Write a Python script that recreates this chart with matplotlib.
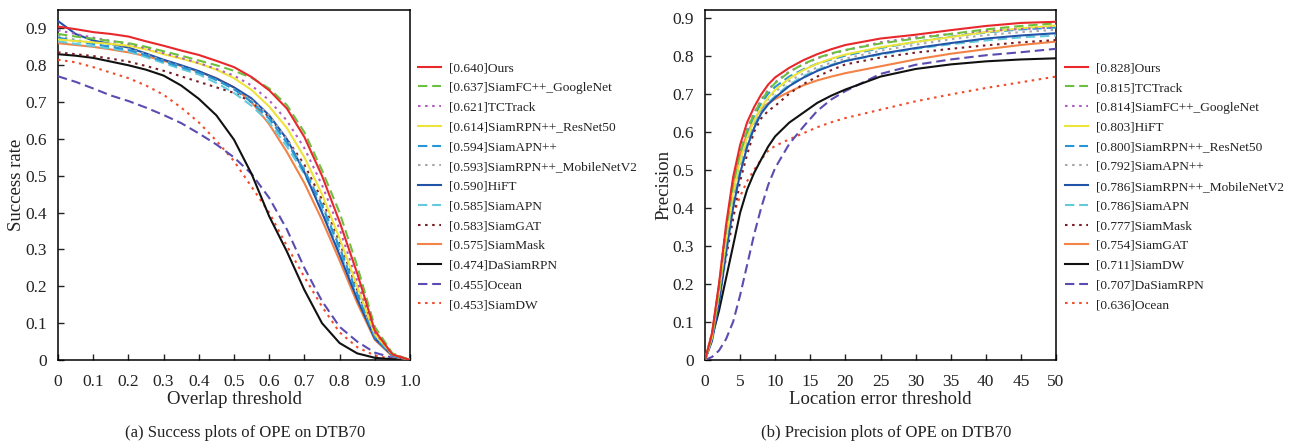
import matplotlib
matplotlib.use("Agg")
import matplotlib.pyplot as plt

plt.rcParams['font.family'] = ['Liberation Serif', 'DejaVu Serif']

# ---------------- Success plot data (overlap threshold) ----------------
overlap = [0.0, 0.05, 0.1, 0.15, 0.2, 0.25, 0.3, 0.35, 0.4, 0.45, 0.5,
           0.55, 0.6, 0.65, 0.7, 0.75, 0.8, 0.85, 0.9, 0.95, 1.0]

succ_names = ['Ours', 'SiamFC++_GoogleNet', 'TCTrack', 'SiamRPN++_ResNet50',
              'SiamAPN++', 'SiamRPN++_MobileNetV2', 'HiFT', 'SiamAPN',
              'SiamGAT', 'SiamMask', 'DaSiamRPN', 'Ocean', 'SiamDW']
succ_auc = ['0.640', '0.637', '0.621', '0.614', '0.594', '0.593', '0.590',
            '0.585', '0.583', '0.575', '0.474', '0.455', '0.453']

succ_ours = [0.905, 0.898, 0.890, 0.885, 0.878, 0.865, 0.853, 0.840, 0.828, 0.812, 0.795,
             0.768, 0.732, 0.683, 0.605, 0.500, 0.375, 0.235, 0.080, 0.015, 0.0]
succ_siamfcpp = [0.885, 0.878, 0.872, 0.866, 0.860, 0.850, 0.838, 0.826, 0.813, 0.800, 0.785,
                 0.766, 0.737, 0.692, 0.618, 0.515, 0.400, 0.255, 0.090, 0.018, 0.0]
succ_tctrack = [0.895, 0.885, 0.875, 0.866, 0.858, 0.846, 0.833, 0.820, 0.806, 0.790, 0.772,
                0.745, 0.705, 0.650, 0.575, 0.475, 0.355, 0.215, 0.075, 0.017, 0.0]
succ_rpn_r50 = [0.870, 0.866, 0.862, 0.858, 0.853, 0.843, 0.830, 0.818, 0.805, 0.788, 0.765,
                0.733, 0.688, 0.630, 0.550, 0.450, 0.330, 0.200, 0.070, 0.015, 0.0]
succ_apnpp = [0.875, 0.866, 0.858, 0.850, 0.842, 0.827, 0.810, 0.795, 0.780, 0.760, 0.735,
              0.700, 0.655, 0.590, 0.515, 0.420, 0.305, 0.180, 0.062, 0.012, 0.0]
succ_rpn_mob = [0.880, 0.869, 0.860, 0.852, 0.845, 0.830, 0.812, 0.797, 0.780, 0.760, 0.735,
                0.705, 0.665, 0.600, 0.520, 0.425, 0.310, 0.185, 0.065, 0.013, 0.0]
succ_hift = [0.920, 0.885, 0.867, 0.858, 0.848, 0.832, 0.815, 0.800, 0.784, 0.764, 0.740,
             0.710, 0.664, 0.600, 0.510, 0.400, 0.285, 0.165, 0.058, 0.012, 0.0]
succ_apn = [0.865, 0.858, 0.852, 0.845, 0.838, 0.822, 0.806, 0.790, 0.775, 0.752, 0.725,
            0.690, 0.645, 0.580, 0.505, 0.410, 0.295, 0.170, 0.060, 0.011, 0.0]
succ_gat = [0.835, 0.830, 0.825, 0.818, 0.810, 0.798, 0.785, 0.770, 0.755, 0.740, 0.725,
            0.700, 0.660, 0.600, 0.530, 0.435, 0.320, 0.190, 0.068, 0.012, 0.0]
succ_mask = [0.860, 0.855, 0.850, 0.843, 0.835, 0.825, 0.812, 0.798, 0.783, 0.765, 0.740,
             0.700, 0.640, 0.565, 0.480, 0.380, 0.270, 0.155, 0.055, 0.010, 0.0]
succ_dasiam = [0.830, 0.826, 0.820, 0.810, 0.800, 0.788, 0.772, 0.745, 0.709, 0.664, 0.598,
               0.505, 0.390, 0.295, 0.190, 0.100, 0.046, 0.018, 0.006, 0.002, 0.0]
succ_ocean = [0.770, 0.755, 0.737, 0.718, 0.703, 0.685, 0.665, 0.643, 0.615, 0.585, 0.550,
              0.505, 0.440, 0.355, 0.250, 0.160, 0.090, 0.050, 0.020, 0.006, 0.0]
succ_siamdw = [0.815, 0.808, 0.795, 0.780, 0.765, 0.745, 0.720, 0.685, 0.645, 0.595, 0.540,
               0.470, 0.400, 0.310, 0.225, 0.145, 0.075, 0.035, 0.012, 0.003, 0.0]

succ_curves = [succ_ours, succ_siamfcpp, succ_tctrack, succ_rpn_r50, succ_apnpp,
               succ_rpn_mob, succ_hift, succ_apn, succ_gat, succ_mask,
               succ_dasiam, succ_ocean, succ_siamdw]

# ---------------- Precision plot data (location error threshold) ----------------
loc_err = [0, 1, 2, 3, 4, 5, 6, 7, 8, 9, 10, 12, 14, 16, 18, 20, 25, 30, 35, 40, 45, 50]

prec_names = ['Ours', 'TCTrack', 'SiamFC++_GoogleNet', 'HiFT', 'SiamRPN++_ResNet50',
              'SiamAPN++', 'SiamRPN++_MobileNetV2', 'SiamAPN', 'SiamMask',
              'SiamGAT', 'SiamDW', 'DaSiamRPN', 'Ocean']
prec_score = ['0.828', '0.815', '0.814', '0.803', '0.800', '0.792', '0.786',
              '0.786', '0.777', '0.754', '0.711', '0.707', '0.636']

prec_ours = [0, 0.070, 0.200, 0.355, 0.480, 0.565, 0.625, 0.665, 0.698, 0.724, 0.743,
             0.768, 0.788, 0.804, 0.817, 0.828, 0.845, 0.855, 0.867, 0.878, 0.886, 0.889]
prec_tctrack = [0, 0.065, 0.190, 0.340, 0.460, 0.545, 0.605, 0.648, 0.682, 0.708, 0.728,
                0.757, 0.778, 0.794, 0.806, 0.815, 0.832, 0.845, 0.857, 0.869, 0.878, 0.885]
prec_siamfcpp = [0, 0.070, 0.200, 0.355, 0.470, 0.550, 0.608, 0.650, 0.684, 0.710, 0.730,
                 0.758, 0.777, 0.793, 0.805, 0.814, 0.835, 0.848, 0.857, 0.865, 0.870, 0.874]
prec_hift = [0, 0.060, 0.180, 0.320, 0.440, 0.525, 0.585, 0.630, 0.664, 0.690, 0.710,
             0.740, 0.762, 0.779, 0.792, 0.803, 0.822, 0.836, 0.849, 0.862, 0.872, 0.879]
prec_rpn_r50 = [0, 0.060, 0.180, 0.320, 0.440, 0.530, 0.595, 0.640, 0.675, 0.700, 0.718,
                0.745, 0.764, 0.779, 0.790, 0.800, 0.820, 0.836, 0.850, 0.861, 0.869, 0.874]
prec_apnpp = [0, 0.060, 0.170, 0.310, 0.430, 0.520, 0.580, 0.625, 0.660, 0.686, 0.705,
              0.733, 0.753, 0.769, 0.782, 0.792, 0.813, 0.829, 0.843, 0.854, 0.862, 0.868]
prec_rpn_mob = [0, 0.050, 0.150, 0.280, 0.400, 0.490, 0.560, 0.610, 0.648, 0.672, 0.690,
                0.720, 0.742, 0.760, 0.774, 0.786, 0.805, 0.820, 0.833, 0.845, 0.853, 0.859]
prec_apn = [0, 0.055, 0.160, 0.290, 0.410, 0.500, 0.568, 0.618, 0.652, 0.676, 0.694,
            0.724, 0.746, 0.763, 0.776, 0.786, 0.803, 0.818, 0.830, 0.840, 0.848, 0.853]
prec_mask = [0, 0.060, 0.160, 0.270, 0.370, 0.470, 0.540, 0.600, 0.635, 0.655, 0.668,
             0.700, 0.725, 0.745, 0.762, 0.777, 0.795, 0.808, 0.818, 0.827, 0.835, 0.841]
prec_gat = [0, 0.070, 0.200, 0.340, 0.460, 0.540, 0.595, 0.632, 0.660, 0.675, 0.686,
            0.705, 0.722, 0.735, 0.745, 0.754, 0.772, 0.790, 0.805, 0.817, 0.828, 0.837]
prec_siamdw = [0, 0.060, 0.130, 0.215, 0.300, 0.387, 0.448, 0.492, 0.527, 0.561, 0.588,
               0.624, 0.650, 0.676, 0.695, 0.711, 0.745, 0.765, 0.777, 0.785, 0.790, 0.793]
prec_dasiam = [0, 0.008, 0.025, 0.055, 0.100, 0.170, 0.250, 0.330, 0.400, 0.460, 0.505,
               0.568, 0.613, 0.655, 0.685, 0.707, 0.752, 0.776, 0.790, 0.801, 0.809, 0.818]
prec_ocean = [0, 0.065, 0.180, 0.300, 0.380, 0.430, 0.470, 0.500, 0.527, 0.550, 0.563,
              0.580, 0.596, 0.612, 0.625, 0.636, 0.658, 0.680, 0.698, 0.715, 0.730, 0.745]

prec_curves = [prec_ours, prec_tctrack, prec_siamfcpp, prec_hift, prec_rpn_r50,
               prec_apnpp, prec_rpn_mob, prec_apn, prec_mask, prec_gat,
               prec_siamdw, prec_dasiam, prec_ocean]

# Line styles are assigned by rank in each plot
rank_colors = ['#e8282b', '#6cbf3f', '#b05cc0', '#ece43a', '#2696d6', '#a8a8a8',
               '#2154a8', '#63c9dc', '#7b1c22', '#f28246', '#111111', '#5a4cb0', '#f24a2a']
SOLID, DASH, DOT = 'solid', (0, (4.5, 2.3)), (0, (1.2, 2.2))
rank_styles = [SOLID, DASH, DOT, SOLID, DASH, DOT, SOLID, DASH, DOT, SOLID, SOLID, DASH, DOT]

W, H = 1296, 448
fig = plt.figure(figsize=(W / 100, H / 100), dpi=100)

ax1 = fig.add_axes([58 / W, 1 - 360 / H, 352 / W, 350 / H])
ax2 = fig.add_axes([705 / W, 1 - 360 / H, 351 / W, 350 / H])


def style_axes(ax):
    for sp in ax.spines.values():
        sp.set_linewidth(1.1)
        sp.set_color('black')
    ax.tick_params(direction='in', length=4, width=1.0, labelsize=12.5,
                   top=False, right=False, colors='#222222')
    ax.tick_params(axis='x', pad=10)
    ax.tick_params(axis='y', pad=8)


def fmt(v):
    return '0' if v == 0 else f'{v:.1f}'


for i, (name, score, ys) in enumerate(zip(succ_names, succ_auc, succ_curves)):
    ax1.plot(overlap, ys, color=rank_colors[i], linestyle=rank_styles[i],
             linewidth=1.5, label=f'[{score}]{name}', zorder=20 - i)
ax1.set_xlim(0, 1.0)
ax1.set_ylim(0, 0.95)
xt1 = [0, 0.1, 0.2, 0.3, 0.4, 0.5, 0.6, 0.7, 0.8, 0.9, 1.0]
yt = [0, 0.1, 0.2, 0.3, 0.4, 0.5, 0.6, 0.7, 0.8, 0.9]
ax1.set_xticks(xt1, [fmt(v) for v in xt1])
ax1.set_yticks(yt, [fmt(v) for v in yt])
ax1.set_xlabel('Overlap threshold', fontsize=13.5, labelpad=1, color='#222222')
ax1.set_ylabel('Success rate', fontsize=13.5, labelpad=0, color='#222222')
style_axes(ax1)

for i, (name, score, ys) in enumerate(zip(prec_names, prec_score, prec_curves)):
    ax2.plot(loc_err, ys, color=rank_colors[i], linestyle=rank_styles[i],
             linewidth=1.5, label=f'[{score}]{name}', zorder=20 - i)
ax2.set_xlim(0, 50)
ax2.set_ylim(0, 0.92)
xt2 = [0, 5, 10, 15, 20, 25, 30, 35, 40, 45, 50]
ax2.set_xticks(xt2, [str(v) for v in xt2])
ax2.set_yticks(yt, [fmt(v) for v in yt])
ax2.set_xlabel('Location error threshold', fontsize=13.5, labelpad=1, color='#222222')
ax2.set_ylabel('Precision', fontsize=13.5, labelpad=0, color='#222222')
style_axes(ax2)

leg_kw = dict(loc='upper left', frameon=False, fontsize=9.6, handlelength=1.75,
              handletextpad=0.6, labelspacing=0.555, borderpad=0, borderaxespad=0,
              labelcolor='#222222')
ax1.legend(bbox_to_anchor=(1 + 8 / 352, 1 - 52 / 350), **leg_kw)
ax2.legend(bbox_to_anchor=(1 + 9 / 351, 1 - 52 / 350), **leg_kw)

fig.text(245 / W, 1 - 433 / H, '(a) Success plots of OPE on DTB70', ha='center',
         va='center', fontsize=12, color='#222222')
fig.text(886 / W, 1 - 433 / H, '(b) Precision plots of OPE on DTB70', ha='center',
         va='center', fontsize=12, color='#222222')

fig.savefig('out.png', dpi=100)
